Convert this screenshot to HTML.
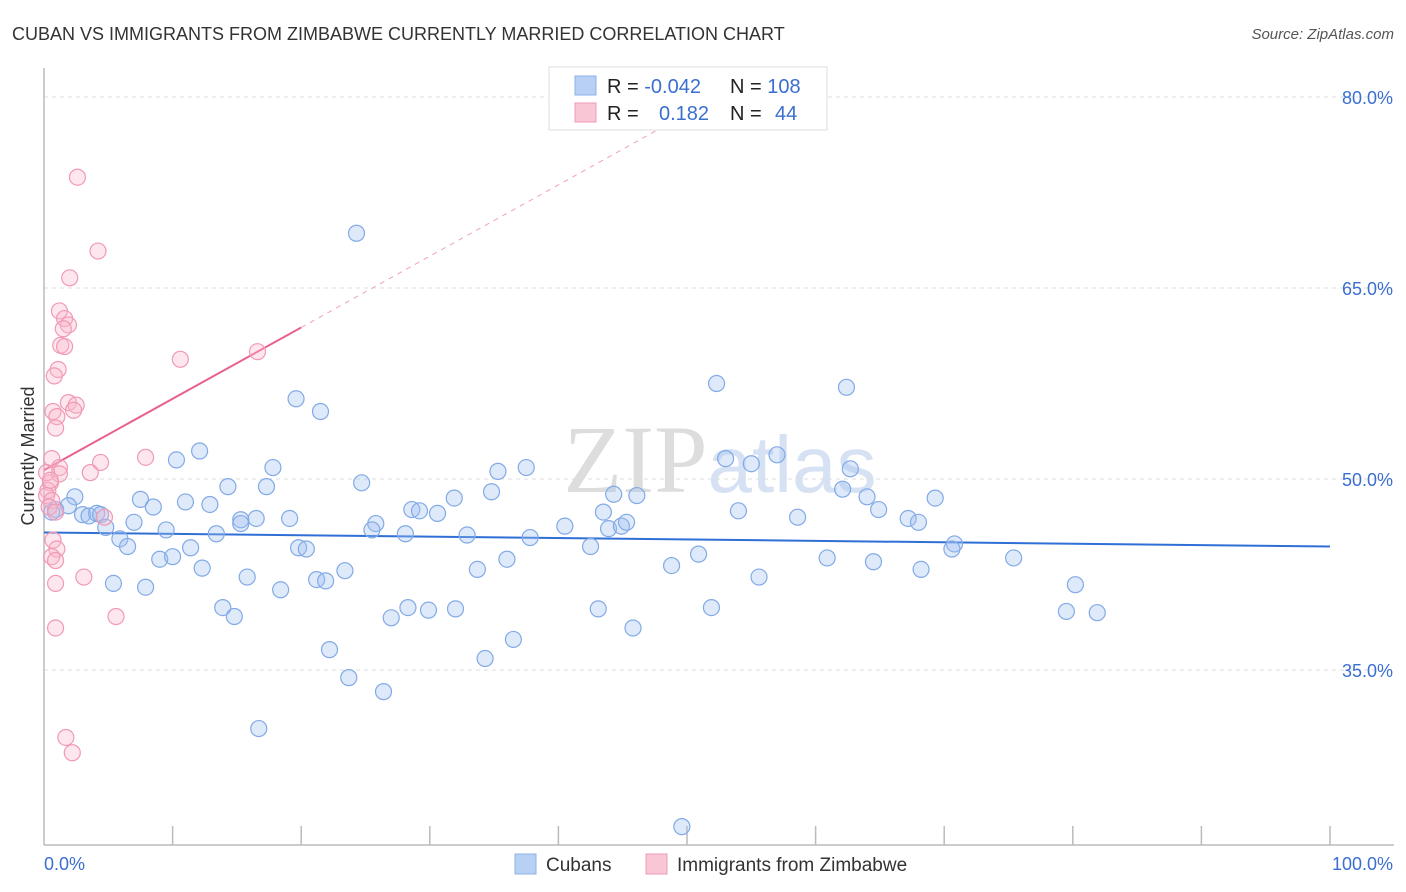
<!DOCTYPE html>
<html><head><meta charset="utf-8">
<style>
body{margin:0;background:#fff;font-family:"Liberation Sans",sans-serif;}
svg{display:block}
</style></head>
<body>
<svg id="chart" width="1406" height="892" viewBox="0 0 1406 892">
<text x="12" y="40" font-size="18" fill="#333">CUBAN VS IMMIGRANTS FROM ZIMBABWE CURRENTLY MARRIED CORRELATION CHART</text>
<text x="1394" y="39" font-size="15" fill="#555" font-style="italic" text-anchor="end">Source: ZipAtlas.com</text>
<text x="720" y="492" font-size="96" fill="#ddd" text-anchor="middle" font-family="Liberation Serif, serif">ZIP<tspan fill="#d6e2f4" font-family="Liberation Sans, sans-serif" font-size="80">atlas</tspan></text>
<text transform="translate(34,456) rotate(-90)" font-size="18" fill="#333" text-anchor="middle">Currently Married</text>
<g id="grid"></g>
<g id="axes"></g>
<g id="lines"></g>
<g id="points"></g>
<g>
<rect x="549" y="67" width="278" height="63" fill="#fff" stroke="#ddd"/>
<rect x="575" y="76" width="21" height="19" fill="#b8d0f3" stroke="#8db2ea"/>
<rect x="575" y="103" width="21" height="19" fill="#f8c6d5" stroke="#f09ab5"/>
<text x="607" y="93" font-size="20" fill="#222">R = <tspan fill="#3a6fd0">-0.042</tspan></text>
<text x="730" y="93" font-size="20" fill="#222">N = <tspan fill="#3a6fd0">108</tspan></text>
<text x="607" y="120" font-size="20" fill="#222">R = <tspan x="659" fill="#3a6fd0">0.182</tspan></text>
<text x="730" y="120" font-size="20" fill="#222">N = <tspan x="775" fill="#3a6fd0">44</tspan></text>
</g>
<g>
<rect x="515" y="854" width="21" height="20" fill="#b8d0f3" stroke="#8db2ea"/>
<text x="546" y="871" font-size="19" fill="#333">Cubans</text>
<rect x="646" y="854" width="21" height="20" fill="#f8c6d5" stroke="#f09ab5"/>
<text x="677" y="871" font-size="19" fill="#333">Immigrants from Zimbabwe</text>
</g>
</svg>
<script>
const yTicks=[35,50,65,80];
const yTickLabels=["35.0%","50.0%","65.0%","80.0%"];
const xTickLabels=["0.0%","100.0%"];
const blueX=[24.3,52.3,62.4,19.6,21.5,12.1,10.3,17.8,53.0,55.0,57.0,35.3,37.5,62.7,24.7,14.3,17.3,34.8,44.3,46.1,62.1,64.0,69.3,31.9,7.5,11.0,12.9,8.5,2.4,1.9,0.9,3.0,3.5,4.1,4.4,7.0,4.8,9.5,15.3,16.5,19.1,28.6,29.2,30.6,43.5,54.0,58.6,64.9,67.2,68.0,15.3,25.8,25.5,28.1,32.9,37.8,40.5,43.9,44.9,45.3,5.9,6.5,13.4,11.4,19.8,20.4,42.5,70.8,70.6,9.0,10.0,12.3,15.8,21.2,21.9,23.4,36.0,33.7,48.8,50.9,60.9,64.5,68.2,75.4,55.6,5.4,7.9,18.4,80.2,13.9,14.8,28.3,29.9,32.0,27.0,43.1,51.9,79.5,81.9,45.8,36.5,22.2,34.3,23.7,26.4,16.7,49.6,0.6];
const blueY=[69.3,57.5,57.2,56.3,55.3,52.2,51.5,50.9,51.6,51.2,51.9,50.6,50.9,50.8,49.7,49.4,49.4,49.0,48.8,48.7,49.2,48.6,48.5,48.5,48.4,48.2,48.0,47.8,48.6,47.9,47.6,47.2,47.1,47.3,47.2,46.6,46.2,46.0,46.8,46.9,46.9,47.6,47.5,47.3,47.4,47.5,47.0,47.6,46.9,46.6,46.5,46.5,46.0,45.7,45.6,45.4,46.3,46.1,46.3,46.6,45.3,44.7,45.7,44.6,44.6,44.5,44.7,44.9,44.5,43.7,43.9,43.0,42.3,42.1,42.0,42.8,43.7,42.9,43.2,44.1,43.8,43.5,42.9,43.8,42.3,41.8,41.5,41.3,41.7,39.9,39.2,39.9,39.7,39.8,39.1,39.8,39.9,39.6,39.5,38.3,37.4,36.6,35.9,34.4,33.3,30.4,22.7,47.4];
const pinkX=[2.6,4.2,2.0,1.2,1.6,1.9,1.5,1.3,1.6,10.6,16.6,1.1,0.8,1.9,2.5,2.3,0.7,1.0,0.9,7.9,4.4,0.6,1.2,3.6,1.2,0.5,0.3,0.2,0.6,0.4,0.9,4.7,0.7,1.0,0.6,0.9,3.1,0.9,5.6,0.9,1.7,2.2,0.2,0.5];
const pinkY=[73.7,67.9,65.8,63.2,62.6,62.1,61.8,60.5,60.4,59.4,60.0,58.6,58.1,56.0,55.8,55.4,55.3,54.9,54.0,51.7,51.3,51.6,50.9,50.5,50.4,49.7,49.1,48.7,48.3,47.8,47.4,47.0,45.2,44.5,43.9,43.6,42.3,41.8,39.2,38.3,29.7,28.5,50.5,49.9];
const blueTrend=[45.8,44.7];   // y at x=0 and x=100
const pinkTrend=[50.7,0.56];   // intercept, slope

const NS="http://www.w3.org/2000/svg";
const X0=44,X1=1330,YTOP=68,YBOT=845;
const xs=v=>X0+(X1-X0)*v/100;
const ys=v=>479-(v-50)*12.733;
function mk(tag,attrs,parent){const e=document.createElementNS(NS,tag);for(const k in attrs)e.setAttribute(k,attrs[k]);document.getElementById(parent).appendChild(e);return e;}

yTicks.forEach((t,i)=>{
  const g=mk('line',{x1:X0,x2:1394,y1:ys(t),y2:ys(t),stroke:'#ddd','stroke-dasharray':'4,4'},'grid');
  
  
  const l=mk('text',{x:1393,y:ys(t)+7,'font-size':18,fill:'#3a6fd0','text-anchor':'end'},'axes');
  l.textContent=yTickLabels[i];
  
  
});
let a=mk('line',{x1:X0,x2:X0,y1:YTOP,y2:YBOT,stroke:'#bbb','stroke-width':1.5},'axes');


a=mk('line',{x1:X0,x2:1394,y1:YBOT,y2:YBOT,stroke:'#bbb','stroke-width':1.5},'axes');


for(let k=1;k<=10;k++){
  const t=mk('line',{x1:xs(k*10),x2:xs(k*10),y1:826,y2:YBOT,stroke:'#bbb','stroke-width':1.5},'axes');
  
  
}
let xl=mk('text',{x:X0,y:870,'font-size':18,fill:'#3a6fd0'},'axes');
xl.textContent=xTickLabels[0];


xl=mk('text',{x:1393,y:870,'font-size':18,fill:'#3a6fd0','text-anchor':'end'},'axes');
xl.textContent=xTickLabels[1];



blueX.forEach((x,i)=>{
  const c=mk('circle',{cx:xs(x),cy:ys(blueY[i]),r:8,fill:'rgba(160,192,242,0.35)',stroke:'#82aae6','stroke-width':1.2},'points');
  
  
});
pinkX.forEach((x,i)=>{
  const c=mk('circle',{cx:xs(x),cy:ys(pinkY[i]),r:8,fill:'rgba(248,182,202,0.35)',stroke:'#f09ab5','stroke-width':1.2},'points');
  
  
});
let ln=mk('line',{x1:xs(0),y1:ys(blueTrend[0]),x2:xs(100),y2:ys(blueTrend[1]),stroke:'#2f6fd6','stroke-width':2},'lines');


ln=mk('line',{x1:xs(0),y1:ys(pinkTrend[0]),x2:xs(20),y2:ys(pinkTrend[0]+pinkTrend[1]*20),stroke:'#e8608e','stroke-width':2},'lines');


ln=mk('line',{x1:xs(20),y1:ys(pinkTrend[0]+pinkTrend[1]*20),x2:xs(52),y2:ys(pinkTrend[0]+pinkTrend[1]*52),stroke:'#f0a0bb','stroke-width':1,'stroke-dasharray':'5,5'},'lines');


</script>
</body></html>
